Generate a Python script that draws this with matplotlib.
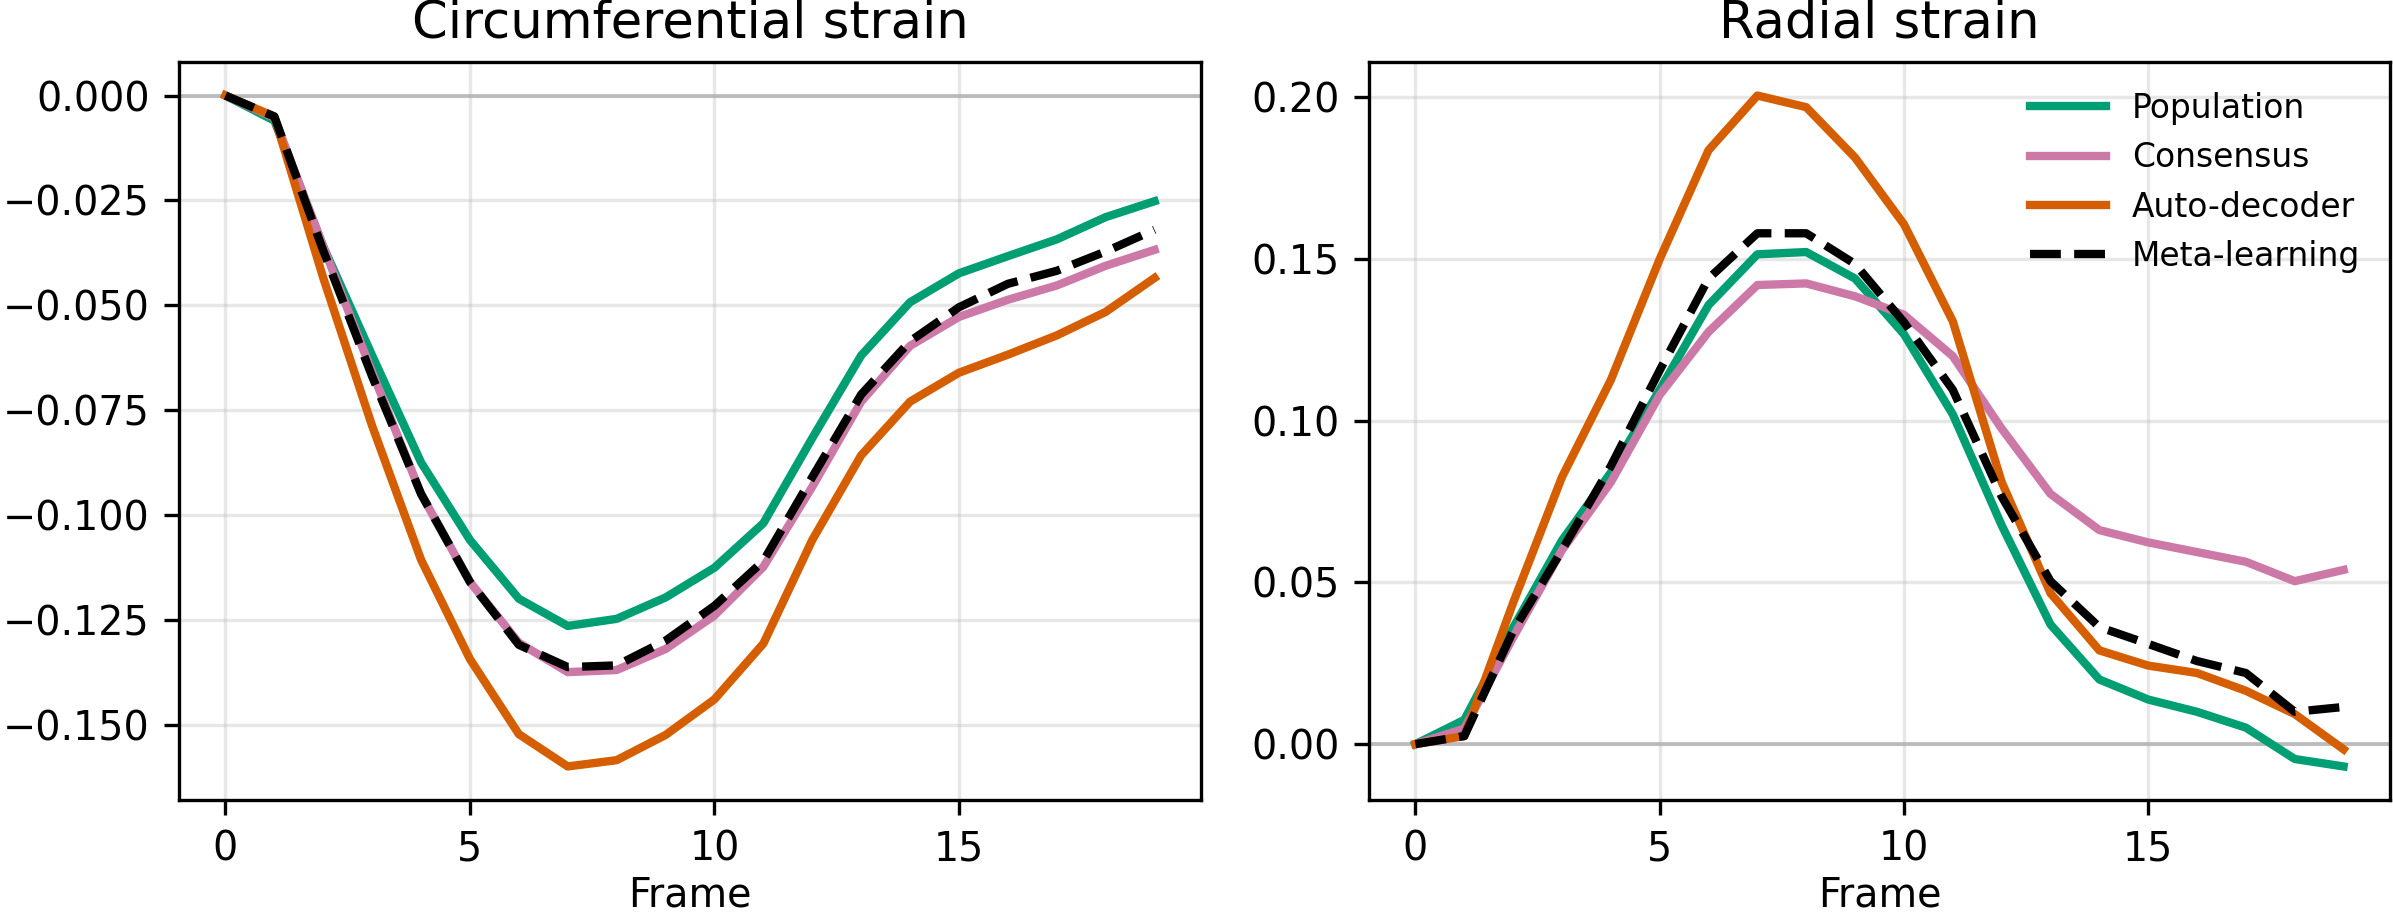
import numpy as np
import matplotlib
matplotlib.use("Agg")
import matplotlib.pyplot as plt
from matplotlib.ticker import MultipleLocator

frames = np.arange(20)

# Circumferential strain
circ_population = [0.000, -0.006, -0.036, -0.062, -0.0875, -0.106, -0.120, -0.1265, -0.1248, -0.1197,
                   -0.1126, -0.102, -0.0817, -0.062, -0.0493, -0.0424, -0.0383, -0.0343, -0.029, -0.0252]
circ_consensus = [0.000, -0.0053, -0.036, -0.066, -0.095, -0.116, -0.1305, -0.1375, -0.137, -0.132,
                  -0.124, -0.1124, -0.0933, -0.073, -0.0597, -0.0528, -0.0487, -0.0453, -0.0406, -0.0368]
circ_autodecoder = [0.000, -0.005, -0.0435, -0.0788, -0.1107, -0.1344, -0.1523, -0.160, -0.1585, -0.1525,
                    -0.144, -0.1307, -0.106, -0.0858, -0.073, -0.0661, -0.0618, -0.0572, -0.0516, -0.0435]
circ_meta = [0.000, -0.005, -0.037, -0.067, -0.095, -0.116, -0.131, -0.1363, -0.1359, -0.130,
             -0.1217, -0.111, -0.091, -0.0713, -0.0586, -0.0505, -0.0449, -0.0418, -0.0372, -0.032]

# Radial strain
rad_population = [0.000, 0.0075, 0.036, 0.063, 0.084, 0.1096, 0.1358, 0.1515, 0.1522, 0.144,
                  0.1268, 0.102, 0.0677, 0.037, 0.020, 0.0138, 0.010, 0.0051, -0.0046, -0.0069]
rad_consensus = [0.000, 0.0048, 0.033, 0.060, 0.081, 0.108, 0.1275, 0.142, 0.1425, 0.1385,
                 0.1328, 0.120, 0.0976, 0.0774, 0.0662, 0.0624, 0.0594, 0.0564, 0.0504, 0.0539]
rad_autodecoder = [0.000, 0.0025, 0.0437, 0.0826, 0.1126, 0.150, 0.1837, 0.2006, 0.197, 0.1814,
                   0.1608, 0.1308, 0.0811, 0.0467, 0.029, 0.0243, 0.022, 0.0165, 0.0093, -0.0016]
rad_meta = [0.000, 0.0025, 0.035, 0.060, 0.086, 0.1156, 0.144, 0.158, 0.158, 0.1485,
            0.1305, 0.1096, 0.0766, 0.0504, 0.0362, 0.031, 0.0257, 0.022, 0.010, 0.0115]

methods = ["Population", "Consensus", "Auto-decoder", "Meta-learning"]
colors = ["#009E73", "#CC79A7", "#D55E00", "black"]
styles = ["-", "-", "-", "--"]

panels = [
    ("Circumferential strain", [circ_population, circ_consensus, circ_autodecoder, circ_meta], 0.025),
    ("Radial strain", [rad_population, rad_consensus, rad_autodecoder, rad_meta], 0.05),
]

W, H = 2393, 920
fig = plt.figure(figsize=(W / 300, H / 300), dpi=300)
ax_left = fig.add_axes([179 / W, 120 / H, 1022 / W, 738 / H])
ax_right = fig.add_axes([1369 / W, 120 / H, 1021 / W, 738 / H])

for ax, (title, series, ystep) in zip([ax_left, ax_right], panels):
    ax.axhline(0, color="0.75", linewidth=0.9, zorder=1)
    for name, vals, c, ls in zip(methods, series, colors, styles):
        ax.plot(frames, vals, color=c, linestyle=ls, linewidth=2, label=name, zorder=2)
    ax.grid(True, alpha=0.3)
    ax.set_title(title, fontsize=12.3)
    ax.set_xlabel("Frame", fontsize=9.5, labelpad=1.5)
    ax.tick_params(labelsize=9.5)
    ax.set_xticks([0, 5, 10, 15])
    ax.yaxis.set_major_locator(MultipleLocator(ystep))

ax_right.legend(loc="upper right", frameon=False, fontsize=7.9,
                handlelength=2.3, labelspacing=0.5)

fig.savefig("out.png", dpi=300)
